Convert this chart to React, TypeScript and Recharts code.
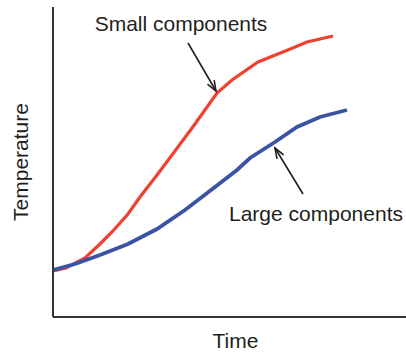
import React from 'react';
import { LineChart, Line, XAxis, YAxis, ReferenceLine, ReferenceDot } from 'recharts';

// Time (arbitrary units) and temperature (arbitrary units)
const smallTime = [0, 13, 32, 47, 59, 75, 87, 104, 122, 142, 164, 179, 205, 230, 254, 280];
const smallTemp = [46, 49, 59, 73, 85, 103, 120, 142, 166, 193, 224, 237, 255, 265, 275, 281];
const largeTime = [0, 22, 47, 75, 104, 132, 162, 184, 197, 222, 244, 267, 294];
const largeTemp = [47, 53, 62, 73, 88, 107, 130, 147, 159, 175, 190, 200, 207];

const smallData = smallTime.map((t, i) => ({ time: t, temp: smallTemp[i] }));
const largeData = largeTime.map((t, i) => ({ time: t, temp: largeTemp[i] }));

const xLabel = 'Time';
const yLabel = 'Temperature';
const smallLabel = 'Small components';
const largeLabel = 'Large components';

// annotation anchors (data units)
const smallLabelPos = { time: 128, temp: 293 };
const largeLabelPos = { time: 263, temp: 103 };
const smallArrow = [{ x: 135, y: 274 }, { x: 163, y: 226 }];
const largeArrow = [{ x: 250, y: 123 }, { x: 222, y: 169 }];

const FONT = '"Liberation Sans", Arial, sans-serif';
const TEXT = '#231f20';

const Arrow = (props: any) => {
  const { x1, y1, x2, y2 } = props;
  const ang = Math.atan2(y2 - y1, x2 - x1);
  const len = 11;
  const spread = 0.36;
  const ax = x2 - len * Math.cos(ang - spread);
  const ay = y2 - len * Math.sin(ang - spread);
  const bx = x2 - len * Math.cos(ang + spread);
  const by = y2 - len * Math.sin(ang + spread);
  return (
    <g>
      <line x1={x1} y1={y1} x2={x2} y2={y2} stroke={TEXT} strokeWidth={1.6} />
      <path d={`M${ax},${ay} L${x2},${y2} L${bx},${by}`} fill="none" stroke={TEXT} strokeWidth={1.6} />
    </g>
  );
};

export default function App() {
  return (
    <div style={{ position: 'absolute', left: 0, top: 0, background: '#fff' }}>
      <LineChart width={406} height={353} margin={{ top: 7, right: 0, bottom: 0, left: 0 }}>
        <XAxis
          type="number"
          dataKey="time"
          domain={[0, 353]}
          height={36}
          tick={false}
          tickLine={false}
          axisLine={{ stroke: '#333', strokeWidth: 2 }}
          label={{ value: xLabel, position: 'insideBottom', offset: 5, dx: 6, fill: TEXT, fontSize: 21, fontFamily: FONT }}
        />
        <YAxis
          type="number"
          dataKey="temp"
          domain={[0, 310]}
          width={53}
          tick={false}
          tickLine={false}
          axisLine={{ stroke: '#333', strokeWidth: 2 }}
          label={{ value: yLabel, angle: -90, position: 'center', dx: -6, fill: TEXT, fontSize: 21, fontFamily: FONT }}
        />
        <Line data={smallData} dataKey="temp" type="linear" stroke="#ef4130" strokeWidth={3.2} dot={false} isAnimationActive={false} />
        <Line data={largeData} dataKey="temp" type="linear" stroke="#3a53a4" strokeWidth={3.8} dot={false} isAnimationActive={false} />
        <ReferenceLine segment={smallArrow} shape={Arrow} ifOverflow="visible" />
        <ReferenceLine segment={largeArrow} shape={Arrow} ifOverflow="visible" />
        <ReferenceDot
          x={smallLabelPos.time}
          y={smallLabelPos.temp}
          r={0}
          fill="none"
          stroke="none"
          ifOverflow="visible"
          label={{ value: smallLabel, position: 'center', fill: TEXT, fontSize: 21, fontFamily: FONT }}
        />
        <ReferenceDot
          x={largeLabelPos.time}
          y={largeLabelPos.temp}
          r={0}
          fill="none"
          stroke="none"
          ifOverflow="visible"
          label={{ value: largeLabel, position: 'center', fill: TEXT, fontSize: 21, fontFamily: FONT }}
        />
      </LineChart>
    </div>
  );
}
